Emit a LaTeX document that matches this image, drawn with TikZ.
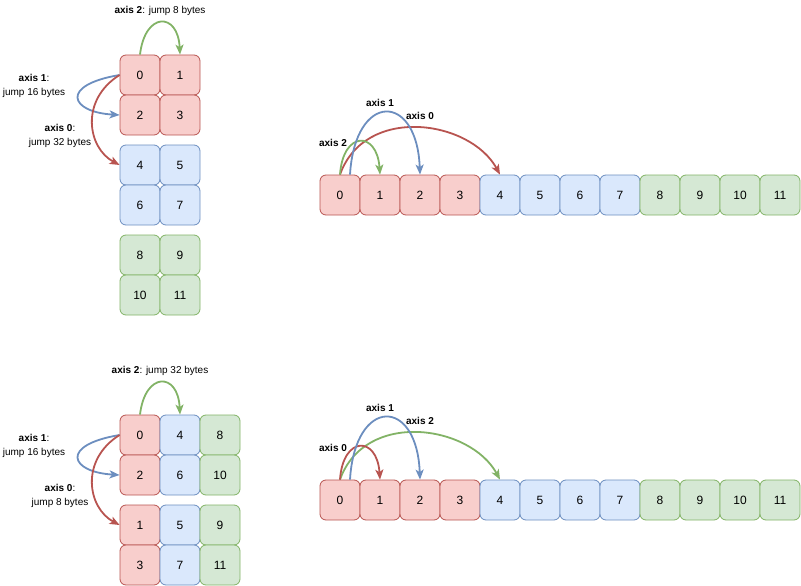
\documentclass[tikz,border=0pt]{standalone}
\usepackage{fontspec}
\setmainfont{Liberation Sans}
\usetikzlibrary{arrows.meta}
\definecolor{rfill}{HTML}{F8CECC}\definecolor{rline}{HTML}{B85450}
\definecolor{bfill}{HTML}{DAE8FC}\definecolor{bline}{HTML}{6C8EBF}
\definecolor{gfill}{HTML}{D5E8D4}\definecolor{gline}{HTML}{82B366}
\begin{document}
\begin{tikzpicture}[x=1pt,y=-1pt,
 cell/.style={draw, line width=0.8pt, rounded corners=6pt, minimum width=40pt, minimum height=40pt, inner sep=0pt, font=\fontsize{12}{14}\selectfont},
 rc/.style={cell, fill=rfill, draw=rline},
 bc/.style={cell, fill=bfill, draw=bline},
 gc/.style={cell, fill=gfill, draw=gline},
 lbl/.style={font=\fontsize{10}{14}\selectfont, inner sep=0pt, align=center},
 arr/.style={line width=1.8pt, -{Stealth[length=10pt,width=8pt,inset=2.5pt]}},
]
\useasboundingbox (0,0) rectangle (801,586);
% top-left grid
\node[rc] (t0) at (140,75) {0};
\node[rc] (t1) at (180,75) {1};
\node[rc] (t2) at (140,115) {2};
\node[rc] (t3) at (180,115) {3};
\node[bc] (t4) at (140,165) {4};
\node[bc] (t5) at (180,165) {5};
\node[bc] (t6) at (140,205) {6};
\node[bc] (t7) at (180,205) {7};
\node[gc] (t8) at (140,255) {8};
\node[gc] (t9) at (180,255) {9};
\node[gc] (t10) at (140,295) {10};
\node[gc] (t11) at (180,295) {11};
% top row
\foreach \i in {0,...,3} {\node[rc] (r\i) at (340+40*\i,195) {\i};}
\foreach \i in {4,...,7} {\node[bc] (r\i) at (340+40*\i,195) {\i};}
\foreach \i in {8,...,11} {\node[gc] (r\i) at (340+40*\i,195) {\i};}
% bottom-left grid
\node[rc] (b0) at (140,435) {0};
\node[bc] (b4) at (180,435) {4};
\node[gc] (b8) at (220,435) {8};
\node[rc] (b2) at (140,475) {2};
\node[bc] (b6) at (180,475) {6};
\node[gc] (b10) at (220,475) {10};
\node[rc] (b1) at (140,525) {1};
\node[bc] (b5) at (180,525) {5};
\node[gc] (b9) at (220,525) {9};
\node[rc] (b3) at (140,565) {3};
\node[bc] (b7) at (180,565) {7};
\node[gc] (b11) at (220,565) {11};
% bottom row
\foreach \i in {0,...,3} {\node[rc] (s\i) at (340+40*\i,500) {\i};}
\foreach \i in {4,...,7} {\node[bc] (s\i) at (340+40*\i,500) {\i};}
\foreach \i in {8,...,11} {\node[gc] (s\i) at (340+40*\i,500) {\i};}
% labels
\node[lbl] (lt2) at (160,11) {\textbf{axis 2}: jump 8 bytes};
\node[lbl] (lt1) at (34,86) {\textbf{axis 1}:\\jump 16 bytes};
\node[lbl] (lt0) at (60,136) {\textbf{axis 0}:\\jump 32 bytes};
\node[lbl] (lr2) at (333,143) {\textbf{axis 2}};
\node[lbl] (lr1) at (380,103) {\textbf{axis 1}};
\node[lbl] (lr0) at (420,116) {\textbf{axis 0}};
\node[lbl] (lb2) at (160,371) {\textbf{axis 2}: jump 32 bytes};
\node[lbl] (lb1) at (34,446) {\textbf{axis 1}:\\jump 16 bytes};
\node[lbl] (lb0) at (60,496) {\textbf{axis 0}:\\jump 8 bytes};
\node[lbl] (ls0) at (333,448) {\textbf{axis 0}};
\node[lbl] (ls1) at (380,408) {\textbf{axis 1}};
\node[lbl] (ls2) at (420,421) {\textbf{axis 2}};
% top-left arrows
\draw[arr, gline] (t0.north) .. controls +(5,-43) and +(-2,-43) .. (t1.north);
\draw[arr, bline] (t0.west) .. controls +(-60,10) and +(-50,-3) .. (t2.west);
\draw[arr, rline] (t0.west) .. controls +(-40,25) and +(-32,-17) .. (t4.west);
% top row arrows
\draw[arr, rline] (r0.north) .. controls +(25,-70) and +(-30,-55) .. (r4.north);
\draw[arr, gline] (r0.north) .. controls +(3,-44) and +(-3,-44) .. (r1.north);
\draw[arr, bline] ([xshift=10pt]r0.north) .. controls +(5,-83) and +(-3,-83) .. (r2.north);
% bottom-left arrows
\draw[arr, gline] (b0.north) .. controls +(5,-43) and +(-2,-43) .. (b4.north);
\draw[arr, bline] (b0.west) .. controls +(-60,10) and +(-50,-3) .. (b2.west);
\draw[arr, rline] (b0.west) .. controls +(-40,25) and +(-32,-17) .. (b1.west);
% bottom row arrows
\draw[arr, gline] (s0.north) .. controls +(25,-70) and +(-30,-55) .. (s4.north);
\draw[arr, rline] (s0.north) .. controls +(3,-44) and +(-3,-44) .. (s1.north);
\draw[arr, bline] ([xshift=10pt]s0.north) .. controls +(5,-83) and +(-3,-83) .. (s2.north);
\end{tikzpicture}
\end{document}
